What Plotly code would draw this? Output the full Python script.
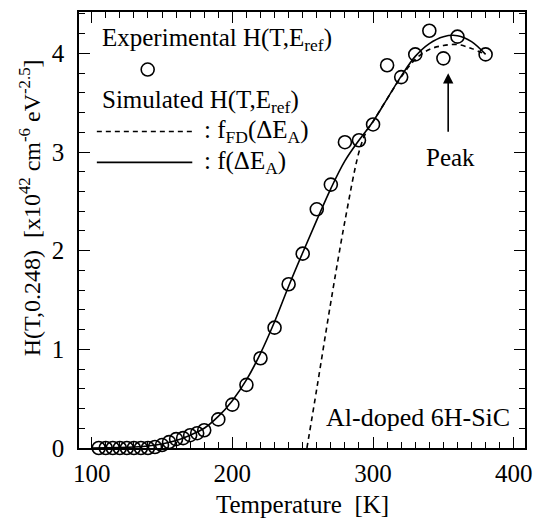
import plotly.graph_objects as go

# Experimental points
T_exp = [105, 110, 115, 120, 125, 130, 135, 140, 145, 150, 155, 160, 165, 170, 175, 180,
         190, 200, 210, 220, 230, 240, 250, 260, 270, 280, 290, 300, 310, 320, 330, 340,
         350, 360, 380]
H_exp = [0.0, 0.0, 0.0, 0.0, 0.0, 0.0, 0.0, 0.0, 0.01, 0.03, 0.06, 0.09, 0.10, 0.13, 0.15, 0.18,
         0.29, 0.44, 0.64, 0.91, 1.22, 1.66, 1.97, 2.42, 2.67, 3.10, 3.12, 3.28, 3.88, 3.76,
         3.99, 4.23, 3.95, 4.17, 3.99]

# Simulated f(dE_A) (solid)
T_sol = [100, 110, 120, 130, 140, 150, 160, 170, 180, 190, 200, 210, 220, 230, 240, 250,
         260, 270, 280, 290, 300, 310, 320, 330, 340, 350, 360, 370, 380]
H_sol = [0.0, 0.002, 0.005, 0.01, 0.02, 0.04, 0.075, 0.13, 0.20, 0.32, 0.48, 0.69, 0.96,
         1.28, 1.64, 1.98, 2.31, 2.63, 2.91, 3.12, 3.31, 3.54, 3.77, 3.97, 4.10, 4.17,
         4.18, 4.12, 3.99]

# Simulated f_FD(dE_A) (dashed)
T_fd = [253, 260, 270, 280, 290, 295, 300, 310, 320, 330, 340, 350, 360, 370, 380]
H_fd = [0.0, 0.6, 1.48, 2.3, 3.0, 3.2, 3.31, 3.54, 3.76, 3.94, 4.04, 4.08, 4.09, 4.05, 3.99]

x_ticks = [100, 200, 300, 400]
y_ticks = [0, 1, 2, 3, 4]

FONT = "Liberation Serif, Times New Roman, serif"
FS = 25

fig = go.Figure()
fig.add_trace(go.Scatter(x=T_sol, y=H_sol, mode="lines", line_shape="spline",
                         line=dict(color="black", width=1.6), showlegend=False))
fig.add_trace(go.Scatter(x=T_fd, y=H_fd, mode="lines", line_shape="spline",
                         line=dict(color="black", width=1.6, dash="5px,4px"), showlegend=False))
fig.add_trace(go.Scatter(x=T_exp, y=H_exp, mode="markers",
                         marker=dict(symbol="circle-open", size=13, color="black",
                                     line=dict(width=1.6)),
                         cliponaxis=False, showlegend=False))

axis_common = dict(showline=True, linecolor="black", linewidth=1.5, mirror="allticks",
                   ticks="inside", ticklen=11, tickwidth=1.3, tickcolor="black",
                   showgrid=False, zeroline=False,
                   tickfont=dict(family=FONT, size=FS, color="black"))

fig.update_xaxes(range=[91, 408], tickvals=x_ticks, ticktext=[str(v) for v in x_ticks],
                 minor=dict(ticks="inside", dtick=10, ticklen=6, tickwidth=1.2, tickcolor="black"),
                 ticklabelstandoff=2,
                 **axis_common)
fig.update_yaxes(range=[0, 4.42], tickvals=y_ticks, ticktext=[str(v) for v in y_ticks],
                 minor=dict(ticks="inside", dtick=0.2, ticklen=6, tickwidth=1.2, tickcolor="black"),
                 ticklabelstandoff=8,
                 **axis_common)

ann_font = dict(family=FONT, size=FS, color="black")
annotations = [
    # axis titles
    dict(x=0.5, y=-0.130, xref="paper", yref="paper", xanchor="center", yanchor="middle",
         text="Temperature  [K]", showarrow=False, font=ann_font),
    dict(x=-0.110, y=0.552, xref="paper", yref="paper", xanchor="center", yanchor="middle",
         textangle=-90,
         text="H(T,0.248)  [x10<sup>42</sup> cm<sup>-6</sup> eV<sup>-2.5</sup>]",
         showarrow=False, font=dict(family=FONT, size=24, color="black")),
    # legend texts
    dict(x=0.047, y=0.938, xref="paper", yref="paper", xanchor="left", yanchor="middle",
         text="Experimental H(T,E<sub>ref</sub>)", showarrow=False, font=ann_font),
    dict(x=0.047, y=0.795, xref="paper", yref="paper", xanchor="left", yanchor="middle",
         text="Simulated H(T,E<sub>ref</sub>)", showarrow=False, font=ann_font),
    dict(x=0.276, y=0.726, xref="paper", yref="paper", xanchor="left", yanchor="middle",
         text=": f<sub>FD</sub>(ΔE<sub>A</sub>)", showarrow=False, font=ann_font),
    dict(x=0.276, y=0.655, xref="paper", yref="paper", xanchor="left", yanchor="middle",
         text=": f(ΔE<sub>A</sub>)", showarrow=False, font=ann_font),
    # peak
    dict(x=355, y=2.94, xref="x", yref="y", text="Peak", showarrow=False, font=ann_font),
    dict(x=353.4, y=3.80, xref="x", yref="y", text="", showarrow=True, arrowhead=2,
         arrowsize=1.3, arrowwidth=1.6, arrowcolor="black", ax=0, ay=60, standoff=0),
    dict(x=331.8, y=0.31, xref="x", yref="y", text="Al-doped 6H-SiC", showarrow=False,
         font=dict(family=FONT, size=26, color="black")),
]

shapes = [
    dict(type="line", xref="paper", yref="paper", x0=0.040, x1=0.254, y0=0.726, y1=0.726,
         line=dict(color="black", width=1.6, dash="5px,4px")),
    dict(type="line", xref="paper", yref="paper", x0=0.040, x1=0.254, y0=0.655, y1=0.655,
         line=dict(color="black", width=1.6)),
    dict(type="circle", xref="paper", yref="paper", xsizemode="pixel", ysizemode="pixel",
         xanchor=0.154, yanchor=0.868, x0=-6.5, x1=6.5, y0=-6.5, y1=6.5,
         line=dict(color="black", width=1.6)),
]

fig.update_layout(width=542, height=523, margin=dict(l=79, r=14, t=10, b=75),
                  plot_bgcolor="white", paper_bgcolor="white",
                  annotations=annotations, shapes=shapes,
                  font=dict(family=FONT, color="black"))

fig.write_html("out.html")
